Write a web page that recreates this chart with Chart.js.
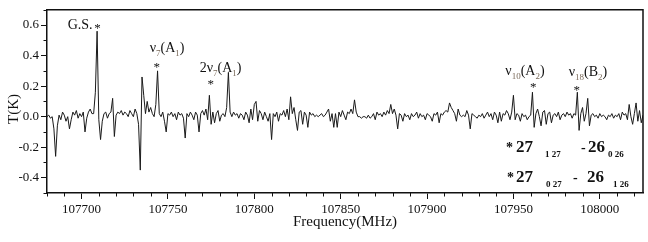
<!DOCTYPE html>
<html>
<head>
<meta charset="utf-8">
<script src="https://cdn.jsdelivr.net/npm/chart.js@4.4.1/dist/chart.umd.min.js"></script>
<style>
  html, body { margin: 0; padding: 0; background: #fff; }
</style>
</head>
<body>
<canvas id="spec" width="648" height="242"></canvas>
<script>
// ── Data ─────────────────────────────────────────────────────────────────────
const FREQ_START = 107680;   // MHz, first channel
const FREQ_STEP  = 1;        // MHz per channel

// antenna temperature T(K), one value per channel
const intensity = [
   0.00,  0.01, -0.01,  0.00, -0.08, -0.26, -0.06,  0.01, -0.02,  0.03,  // 107680
   0.01, -0.03,  0.00, -0.08, -0.02,  0.03,  0.01,  0.04, -0.01,  0.02,  // 107690
   0.00,  0.03, -0.10, -0.01,  0.03,  0.05,  0.02,  0.02,  0.16,  0.56,  // 107700
  -0.02, -0.15, -0.03,  0.02,  0.03, -0.01,  0.02,  0.03,  0.12, -0.13,  // 107710
   0.01,  0.03,  0.02,  0.04,  0.01,  0.03,  0.02,  0.00,  0.04,  0.02,  // 107720
   0.00,  0.05,  0.02, -0.05, -0.35,  0.26,  0.14,  0.02,  0.10,  0.03,  // 107730
   0.06,  0.02,  0.00,  0.08,  0.30,  0.02,  0.00,  0.03, -0.03, -0.10,  // 107740
   0.02,  0.01,  0.03,  0.00,  0.02, -0.02,  0.03,  0.01,  0.02, -0.01,  // 107750
  -0.14,  0.02,  0.00,  0.03,  0.01, -0.02,  0.03,  0.01, -0.10,  0.02,  // 107760
   0.04,  0.01,  0.05, -0.02,  0.14, -0.05,  0.03, -0.04,  0.02,  0.04,  // 107770
  -0.03,  0.01,  0.02,  0.00,  0.06,  0.29,  0.03,  0.00,  0.03,  0.01,  // 107780
   0.02, -0.01,  0.02,  0.01, -0.02,  0.03,  0.01, -0.04,  0.05, -0.02,  // 107790
   0.08,  0.10, -0.03,  0.04,  0.02, -0.02,  0.03,  0.00, -0.03,  0.02,  // 107800
  -0.15,  0.02,  0.00,  0.03, -0.03,  0.02,  0.01,  0.04,  0.00,  0.05,  // 107810
  -0.02,  0.13,  0.02,  0.06, -0.02, -0.09,  0.03,  0.04, -0.05,  0.03,  // 107820
   0.01, -0.07,  0.03,  0.01,  0.02,  0.00,  0.01,  0.00,  0.01,  0.02,  // 107830
   0.00,  0.01,  0.03,  0.05, -0.03,  0.02, -0.07,  0.02, -0.07,  0.03,  // 107840
   0.00,  0.04,  0.01, -0.02,  0.03,  0.02,  0.05,  0.02,  0.11,  0.03,  // 107850
   0.00,  0.00, -0.01,  0.00,  0.00, -0.01,  0.01, -0.01,  0.00,  0.02,  // 107860
  -0.02,  0.03,  0.01,  0.02,  0.00,  0.03,  0.01,  0.04,  0.02,  0.08,  // 107870
   0.02,  0.05,  0.01, -0.08,  0.02,  0.01, -0.03,  0.02,  0.00,  0.01,  // 107880
  -0.02,  0.02,  0.00,  0.01,  0.03, -0.01,  0.02,  0.00,  0.01, -0.02,  // 107890
   0.02,  0.01,  0.00, -0.03,  0.02,  0.01,  0.03, -0.04,  0.02,  0.01,  // 107900
   0.03,  0.04,  0.03,  0.09,  0.06,  0.04,  0.02, -0.03,  0.05,  0.01,  // 107910
   0.00,  0.01,  0.00,  0.04,  0.01, -0.08,  0.02,  0.01,  0.00, -0.01,  // 107920
   0.01,  0.00,  0.02, -0.01,  0.01,  0.03,  0.00,  0.02, -0.02,  0.03,  // 107930
   0.01, -0.04,  0.03, -0.03,  0.02,  0.01,  0.04,  0.02, -0.02,  0.03,  // 107940
   0.14, -0.02,  0.02,  0.01, -0.03,  0.02,  0.00,  0.01, -0.02,  0.00,  // 107950
   0.01,  0.16, -0.07,  0.02,  0.05,  0.00, -0.06,  0.03,  0.04, -0.05,  // 107960
   0.02,  0.03, -0.04,  0.01,  0.02,  0.00,  0.03, -0.02,  0.01,  0.02,  // 107970
   0.00,  0.03,  0.01,  0.02, -0.01,  0.02,  0.01,  0.16, -0.09,  0.02,  // 107980
   0.06, -0.03,  0.02,  0.12, -0.06,  0.01,  0.02,  0.00,  0.01, -0.01,  // 107990
   0.02,  0.00,  0.01,  0.00, -0.02,  0.01,  0.00,  0.02, -0.01,  0.01,  // 108000
   0.00,  0.02, -0.02,  0.03,  0.01,  0.02, -0.02,  0.08,  0.00, -0.05,  // 108010
   0.02,  0.09, -0.03,  0.04, -0.04,  0.01                                // 108020
];

const xTicks = [107700, 107750, 107800, 107850, 107900, 107950, 108000];
const yTicks = [-0.4, -0.2, 0.0, 0.2, 0.4, 0.6];

// assigned lines: star position (freq, T) and label pieces [text, isSubscript]
const lineFreqs  = [107709.3, 107743.5, 107774.8, 107961.5, 107986.6];
const lineStarT  = [0.595, 0.34, 0.226, 0.208, 0.187];
const lineLabels = [
  [["G.S.", false]],
  [["ν", false], ["7", true], ["(A", false], ["1", true], [")", false]],
  [["2ν", false], ["7", true], ["(A", false], ["1", true], [")", false]],
  [["ν", false], ["10", true], ["(A", false], ["2", true], [")", false]],
  [["ν", false], ["18", true], ["(B", false], ["2", true], [")", false]]
];

// ── Drawing helpers ──────────────────────────────────────────────────────────
const SERIF = '"Liberation Serif", "Times New Roman", serif';
const INK = "#111";

function drawPieces(ctx, x, y, pieces, alignRight) {
  const fontOf = (sub) => `${sub ? 9 : 14}px ${SERIF}`;
  let w = 0;
  for (const [t, sub] of pieces) { ctx.font = fontOf(sub); w += ctx.measureText(t).width; }
  let cx = alignRight ? x - w : x;
  for (const [t, sub] of pieces) {
    ctx.font = fontOf(sub);
    ctx.fillStyle = sub ? "#7a6a5a" : INK;
    ctx.fillText(t, cx, sub ? y + 4 : y);
    cx += ctx.measureText(t).width;
  }
}

// label offsets from the star (px)
const labelOffsets = [[-5, 3.5, true], [-7, -13, false], [-11, -10, false], [-28, -10, false], [-8, -12, false]];

const decorations = {
  id: "decorations",
  afterDraw(chart) {
    const { ctx, chartArea: a, scales: { x, y } } = chart;
    ctx.save();

    // frame top / right
    ctx.strokeStyle = INK;
    ctx.lineWidth = 1.5;
    ctx.beginPath();
    ctx.moveTo(a.left, a.top); ctx.lineTo(a.right, a.top); ctx.lineTo(a.right, a.bottom);
    ctx.stroke();

    // minor ticks
    ctx.lineWidth = 1;
    ctx.beginPath();
    for (let f = 107680; f <= 108025; f += 10) {
      if (f % 50 === 0) continue;
      const px = Math.round(x.getPixelForValue(f)) + 0.5;
      ctx.moveTo(px, a.bottom); ctx.lineTo(px, a.bottom + 3.5);
    }
    for (let k = -5; k <= 7; k += 2) {
      const py = Math.round(y.getPixelForValue(k / 10)) + 0.5;
      ctx.moveTo(a.left, py); ctx.lineTo(a.left - 3.5, py);
    }
    ctx.stroke();

    // y title
    ctx.save();
    ctx.translate(14, 109);
    ctx.rotate(-Math.PI / 2);
    ctx.font = `15px ${SERIF}`;
    ctx.fillStyle = INK;
    ctx.textAlign = "center";
    ctx.textBaseline = "middle";
    ctx.fillText("T(K)", 0, 0);
    ctx.restore();

    // line assignments
    ctx.textBaseline = "alphabetic";
    lineFreqs.forEach((f, i) => {
      const sx = x.getPixelForValue(f);
      const sy = y.getPixelForValue(lineStarT[i]);
      ctx.font = `13px ${SERIF}`;
      ctx.fillStyle = INK;
      ctx.textAlign = "center";
      ctx.fillText("*", sx, sy + 6);
      ctx.textAlign = "left";
      const [dx, dy, right] = labelOffsets[i];
      drawPieces(ctx, sx + dx, sy + dy, lineLabels[i], right);
    });

    // transition key, bottom right
    const R = a.right, B = a.bottom;
    const key = [
      [B - 41, [["*", -137, 14], ["27", -127, 17], ["1 27", -98, 9], ["-", -62, 14], ["26", -55, 17], ["0 26", -35, 9]]],
      [B - 11, [["*", -136, 14], ["27", -127, 17], ["0 27", -97, 9], ["-", -70, 14], ["26", -56, 17], ["1 26", -30, 9]]]
    ];
    ctx.fillStyle = INK;
    for (const [base, parts] of key) {
      for (const [t, dx, size] of parts) {
        ctx.font = `bold ${size}px ${SERIF}`;
        ctx.fillText(t, R + dx, size === 9 ? base + 5 : base);
      }
    }
    ctx.restore();
  }
};

// ── Chart ────────────────────────────────────────────────────────────────────
const points = intensity.map((t, i) => ({ x: FREQ_START + i * FREQ_STEP, y: t }));

new Chart(document.getElementById("spec"), {
  type: "line",
  data: {
    datasets: [{
      data: points,
      borderColor: "#1a1a1a",
      borderWidth: 1,
      pointRadius: 0,
      tension: 0,
      fill: false
    }]
  },
  options: {
    responsive: false,
    animation: false,
    devicePixelRatio: 1,
    layout: { padding: { left: 0, right: 5, top: 7, bottom: 0 } },
    plugins: { legend: { display: false }, tooltip: { enabled: false } },
    scales: {
      x: {
        type: "linear",
        min: 107680, max: 108025,
        afterFit: (s) => { s.height = 49; },
        afterBuildTicks: (s) => { s.ticks = xTicks.map((v) => ({ value: v })); },
        ticks: {
          font: { family: SERIF, size: 13 }, color: INK, padding: 3,
          maxRotation: 0, autoSkip: false, callback: (v) => String(v)
        },
        grid: { drawOnChartArea: false, tickLength: 6, tickColor: INK, tickWidth: 1 },
        border: { color: INK, width: 1.5 },
        title: {
          display: true, text: "Frequency(MHz)", color: INK,
          font: { family: SERIF, size: 15 }, padding: { top: 0, bottom: 11 }
        }
      },
      y: {
        min: -0.5, max: 0.7,
        afterFit: (s) => { s.width = 47; },
        afterBuildTicks: (s) => { s.ticks = yTicks.map((v) => ({ value: v })); },
        ticks: {
          font: { family: SERIF, size: 13 }, color: INK, padding: 2,
          callback: (v) => v.toFixed(1)
        },
        grid: { drawOnChartArea: false, tickLength: 6, tickColor: INK, tickWidth: 1 },
        border: { color: INK, width: 1.5 }
      }
    }
  },
  plugins: [decorations]
});
</script>
</body>
</html>
